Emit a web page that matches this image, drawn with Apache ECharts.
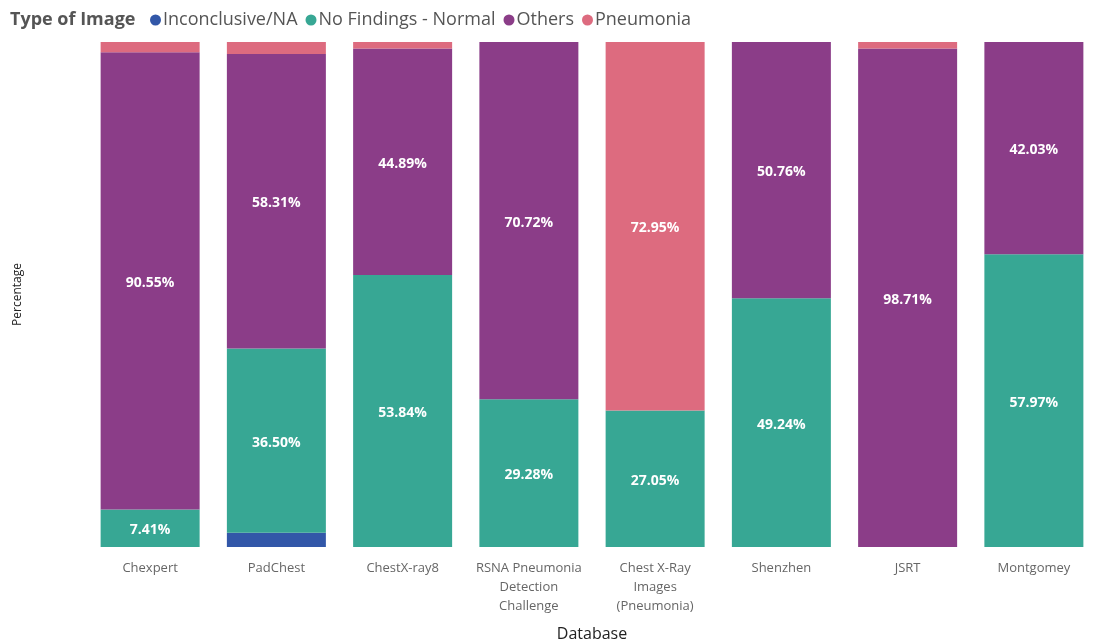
<!DOCTYPE html>
<html><head><meta charset="utf-8">
<script src="https://cdn.jsdelivr.net/npm/echarts@6/dist/echarts.min.js"></script>
<style>html,body{margin:0;padding:0;background:#fff}#c{width:1093px;height:642px}</style>
</head><body><div id="c"></div>
<script>
const categories = ['Chexpert','PadChest','ChestX-ray8','RSNA Pneumonia\nDetection\nChallenge','Chest X-Ray\nImages\n(Pneumonia)','Shenzhen','JSRT','Montgomey'];
const inconclusive = [0, 2.80, 0, 0, 0, 0, 0, 0];
const normal = [7.41, 36.50, 53.84, 29.28, 27.05, 49.24, 0, 57.97];
const others = [90.55, 58.31, 44.89, 70.72, 0, 50.76, 98.71, 42.03];
const pneumonia = [2.04, 2.39, 1.27, 0, 72.95, 0, 1.29, 0];
const seriesNames = ['Inconclusive/NA','No Findings - Normal','Others','Pneumonia'];
const colors = ['#3257A8','#37A794','#8B3D88','#DD6B7F'];
const font = '"Segoe UI","Open Sans","Noto Sans",sans-serif';
const chart = echarts.init(document.getElementById('c'));
const mk = (name, data, color) => ({
  name, type:'bar', stack:'s', data, barWidth:99,
  itemStyle:{color},
  label:{show:true, position:'inside', offset:[0,2], color:'#fff', fontWeight:'bold', fontSize:14, fontFamily:font,
    formatter:p => p.value >= 5 ? p.value.toFixed(2)+'%' : ''}
});
chart.setOption({
  animation:false,
  graphic:[{type:'text', left:10, top:11, style:{text:'Type of Image', font:'bold 18px '+font, fill:'#555'}}],
  legend:{left:145, top:6, icon:'circle', itemWidth:11, itemHeight:11, itemGap:8,
    textStyle:{fontSize:18, color:'#555', fontFamily:font, padding:[0,0,0,-3]}, data:seriesNames},
  grid:{left:87, width:1010, top:42, height:505, outerBoundsMode:'none', containLabel:false},
  xAxis:{type:'category', data:categories, name:'Database', nameLocation:'middle', nameGap:79,
    nameTextStyle:{fontSize:16, color:'#222', fontFamily:font},
    axisLine:{show:false}, axisTick:{show:false},
    axisLabel:{interval:0, fontSize:13, color:'#666', fontFamily:font, lineHeight:19, margin:12}},
  yAxis:{type:'value', min:0, max:100, name:'Percentage', nameLocation:'middle', nameGap:63,
    nameTextStyle:{fontSize:12, color:'#222', fontFamily:font},
    axisLabel:{show:false}, splitLine:{show:false}, axisLine:{show:false}, axisTick:{show:false}},
  series:[mk(seriesNames[0],inconclusive,colors[0]), mk(seriesNames[1],normal,colors[1]), mk(seriesNames[2],others,colors[2]), mk(seriesNames[3],pneumonia,colors[3])]
});
</script></body></html>
